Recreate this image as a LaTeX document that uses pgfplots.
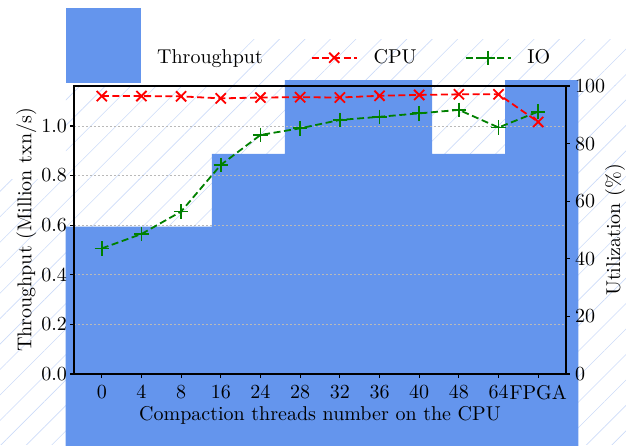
\documentclass[border=0pt]{standalone}
\usepackage{pgfplots}
\pgfplotsset{compat=1.18}
\usetikzlibrary{patterns.meta}
\definecolor{barblue}{RGB}{100,149,237}
\definecolor{hatchblue}{RGB}{204,219,248}
\definecolor{iogreen}{RGB}{0,128,0}
\definecolor{gridgray}{RGB}{185,185,185}
\begin{document}
\begin{tikzpicture}
\begin{axis}[
  scale only axis, width=246pt, height=144pt,
  xmin=-0.7, xmax=11.7, ymin=0, ymax=1.161,
  clip=false, axis on top,
  xtick={0,...,11},
  xticklabels={0,4,8,16,24,28,32,36,40,48,64,FPGA},
  ytick={0,0.2,0.4,0.6,0.8,1.0},
  yticklabel style={xshift=2pt,/pgf/number format/.cd,fixed,fixed zerofill,precision=1},
  xtick pos=bottom, ytick pos=left,
  tick align=outside, major tick length=2pt,
  tick style={black, line width=0.6pt},
  axis line style={black, line width=0.8pt},
  ymajorgrids, grid style={gridgray, dash pattern=on 1.2pt off 0.8pt, line width=0.4pt},
  xlabel={Compaction threads number on the CPU},
  ylabel={Throughput (Million txn/s)},
  xlabel style={at={(axis description cs:0.5,-0.143)}, anchor=center},
  ylabel style={at={(axis description cs:-0.097,0.5)}, anchor=center, inner sep=0pt},
]
\path (rel axis cs:-0.1504,-0.2465) rectangle (rel axis cs:1.122,1.2986);
\fill[pattern={Lines[angle=45,distance=9pt,line width=0.3pt]}, pattern color=hatchblue]
  (rel axis cs:-0.1504,-0.2465) rectangle (rel axis cs:1.122,0.674);
\fill[pattern={Lines[angle=45,distance=9pt,line width=0.3pt]}, pattern color=hatchblue]
  (rel axis cs:-0.0163,0.674) rectangle (rel axis cs:1.122,1.0);
\fill[pattern={Lines[angle=45,distance=9pt,line width=0.3pt]}, pattern color=hatchblue]
  (rel axis cs:0.317,1.0) rectangle (rel axis cs:1.122,1.16);
\addplot[fill=barblue, draw=none] coordinates {
  (-0.908,-0.29) (-0.908,0.594) (2.775,0.594) (2.775,0.887) (4.617,0.887)
  (4.617,1.185) (8.325,1.185) (8.325,0.887) (10.167,0.887) (10.167,1.185)
  (12.01,1.185) (12.01,-0.29)} -- cycle;
\end{axis}
\begin{axis}[
  scale only axis, width=246pt, height=144pt,
  xmin=-0.7, xmax=11.7, ymin=0, ymax=100,
  axis y line*=right, axis x line=none,
  ytick={0,20,40,60,80,100},
  yticklabel style={xshift=-1pt},
  tick align=outside, major tick length=2pt,
  tick style={black, line width=0.6pt},
  axis line style={black, line width=0.8pt},
  ylabel={Utilization (\%)},
  ylabel style={at={(axis description cs:1.1,0.5)}, anchor=center, inner sep=0pt},
  legend columns=3,
  legend style={at={(-0.0163,1.271)}, anchor=north west, draw=none, fill=none,
    inner sep=0pt,
    /tikz/every odd column/.append style={column sep=6pt},
    /tikz/every even column/.append style={column sep=22pt}},
]
\addlegendimage{legend image code/.code={\fill[barblue] (0pt,-12.5pt) rectangle (37pt,24.5pt);}}
\addlegendentry{Throughput}
\addplot[red, line width=0.9pt, dash pattern=on 3.5pt off 1.8pt, mark=x, mark size=3.6pt, mark options={solid},
  legend image code/.code={\draw[mark repeat=2,mark phase=2] plot coordinates {(0pt,0pt) (11.25pt,0pt) (22.5pt,0pt)};}]
  table {
x y
0 96.5
1 96.5
2 96.4
3 95.7
4 96.0
5 96.1
6 96.0
7 96.6
8 96.9
9 97.1
10 97.1
11 87.5
};
\addlegendentry{CPU}
\addplot[iogreen, line width=0.9pt, dash pattern=on 3.5pt off 1.8pt, mark=+, mark size=3.6pt, mark options={solid},
  legend image code/.code={\draw[mark repeat=2,mark phase=2] plot coordinates {(0pt,0pt) (11.25pt,0pt) (22.5pt,0pt)};}]
  table {
x y
0 43.6
1 48.6
2 56.4
3 72.6
4 83.0
5 85.3
6 88.2
7 89.3
8 90.5
9 91.7
10 85.6
11 91.1
};
\addlegendentry{IO}
\end{axis}
\end{tikzpicture}
\end{document}
